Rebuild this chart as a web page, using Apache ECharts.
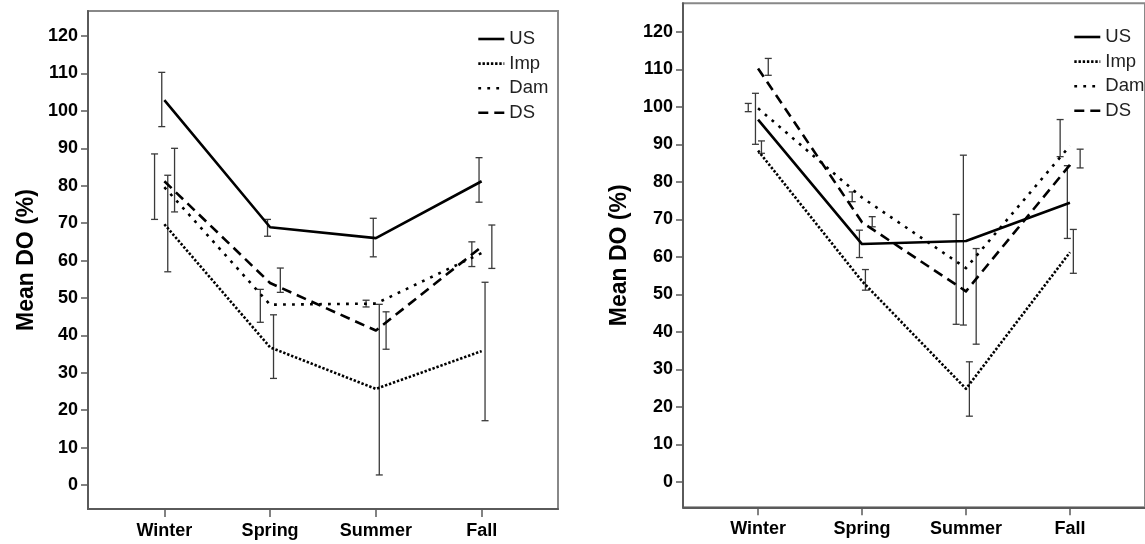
<!DOCTYPE html>
<html>
<head>
<meta charset="utf-8">
<script src="https://cdn.jsdelivr.net/npm/echarts@6/dist/echarts.min.js"></script>
<style>
html,body{margin:0;padding:0;background:#fff;}
#c{width:1145px;height:544px;}
</style>
</head>
<body>
<div id="c"></div>
<script>
// ---- data ----
const categories = ['Winter', 'Spring', 'Summer', 'Fall'];
const yTicks = [0, 10, 20, 30, 40, 50, 60, 70, 80, 90, 100, 110, 120];
const seriesNames = ['US', 'Imp', 'Dam', 'DS'];

// Left panel means
const usLeft  = [102.9, 68.9, 66.0, 81.2];
const impLeft = [69.7, 36.8, 25.7, 35.8];
const damLeft = [79.6, 48.2, 48.5, 62.0];
const dsLeft  = [81.2, 54.0, 41.3, 63.7];
// Left panel error bar low / high
const usLeftLo  = [95.8, 66.5, 61.0, 75.6];
const usLeftHi  = [110.3, 71.0, 71.3, 87.5];
const impLeftLo = [57.0, 28.5, 2.7, 17.2];
const impLeftHi = [82.8, 45.5, 48.3, 54.2];
const damLeftLo = [71.0, 43.5, 47.6, 58.4];
const damLeftHi = [88.5, 52.3, 49.4, 65.0];
const dsLeftLo  = [73.0, 51.5, 36.3, 57.9];
const dsLeftHi  = [90.0, 58.0, 46.3, 69.5];

// Right panel means
const usRight  = [96.6, 63.4, 64.2, 74.4];
const impRight = [88.3, 53.5, 24.8, 61.2];
const damRight = [99.6, 75.8, 57.0, 89.6];
const dsRight  = [110.2, 69.2, 50.8, 84.5];
// Right panel error bar low / high
const usRightLo  = [90.0, 59.8, 41.8, 64.9];
const usRightHi  = [103.6, 67.1, 87.1, 84.3];
const impRightLo = [87.6, 51.1, 17.5, 55.6];
const impRightHi = [90.9, 56.6, 32.0, 67.3];
const damRightLo = [98.7, 74.7, 42.0, 86.7];
const damRightHi = [100.9, 77.3, 71.3, 96.6];
const dsRightLo  = [108.4, 68.0, 36.7, 83.7];
const dsRightHi  = [112.9, 70.7, 62.2, 88.7];

// ---- styles ----
const FONT = "'Liberation Sans', Arial, sans-serif";
const lineStyles = {
  US:  { type: 'solid' },
  Imp: { type: [2.4, 1.8] },
  Dam: { type: [2.8, 6.2] },
  DS:  { type: [10, 6] }
};
const barOffsets = { US: -2.6, Imp: 3.4, Dam: -9.8, DS: 10.2 };

const panels = [
  { means: { US: usLeft, Imp: impLeft, Dam: damLeft, DS: dsLeft },
    lo: { US: usLeftLo, Imp: impLeftLo, Dam: damLeftLo, DS: dsLeftLo },
    hi: { US: usLeftHi, Imp: impLeftHi, Dam: damLeftHi, DS: dsLeftHi } },
  { means: { US: usRight, Imp: impRight, Dam: damRight, DS: dsRight },
    lo: { US: usRightLo, Imp: impRightLo, Dam: damRightLo, DS: dsRightLo },
    hi: { US: usRightHi, Imp: impRightHi, Dam: damRightHi, DS: dsRightHi } }
];

const grids = [
  { left: 88, top: 11, width: 470, height: 498 },
  { left: 683, top: 3.3, width: 471, height: 504 }
];
const yRanges = [
  { min: -6.4, max: 126.7, nameGap: 50 },
  { min: -6.8, max: 127.6, nameGap: 52 }
];

function xAxisFor(i) {
  return {
    type: 'value', gridIndex: i, min: -0.722, max: 3.722,
    axisLine: { show: true, onZero: false, lineStyle: { color: '#5a5a5a', width: 2 } },
    axisTick: { show: true, customValues: [0, 1, 2, 3], length: 8, inside: false,
      lineStyle: { color: '#5a5a5a', width: 1.5 } },
    axisLabel: { customValues: [0, 1, 2, 3], margin: 13,
      formatter: v => categories[Math.round(v)] || '',
      color: '#000', fontFamily: FONT, fontWeight: 'bold', fontSize: 18 },
    splitLine: { show: false }
  };
}
function yAxisFor(i) {
  return {
    type: 'value', gridIndex: i, min: yRanges[i].min, max: yRanges[i].max,
    name: 'Mean DO (%)', nameLocation: 'middle', nameRotate: 90, nameGap: yRanges[i].nameGap,
    nameTextStyle: { color: '#000', fontFamily: FONT, fontWeight: 'bold', fontSize: 23 },
    axisLine: { show: true, onZero: false, lineStyle: { color: '#5a5a5a', width: 2 } },
    axisTick: { show: true, customValues: yTicks, length: 7,
      lineStyle: { color: '#5a5a5a', width: 1.5 } },
    axisLabel: { customValues: yTicks, margin: 10,
      color: '#000', fontFamily: FONT, fontWeight: 'bold', fontSize: 18 },
    splitLine: { show: false }
  };
}

const series = [];
panels.forEach((p, pi) => {
  seriesNames.forEach(name => {
    const lo = p.lo[name], hi = p.hi[name];
    const dx = barOffsets[name];
    series.push({
      type: 'custom', xAxisIndex: pi, yAxisIndex: pi, z: 1, silent: true,
      data: categories.map((c, k) => [k, lo[k], hi[k]]),
      encode: { x: 0, y: [1, 2] },
      renderItem: function (params, api) {
        const x = api.value(0);
        const a = api.coord([x, api.value(2)]);
        const b = api.coord([x, api.value(1)]);
        const px = a[0] + dx;
        const cap = 3.5;
        const st = { stroke: '#3a3a3a', lineWidth: 1.3 };
        return { type: 'group', children: [
          { type: 'line', shape: { x1: px, y1: a[1], x2: px, y2: b[1] }, style: st },
          { type: 'line', shape: { x1: px - cap, y1: a[1], x2: px + cap, y2: a[1] }, style: st },
          { type: 'line', shape: { x1: px - cap, y1: b[1], x2: px + cap, y2: b[1] }, style: st }
        ]};
      }
    });
  });
  seriesNames.forEach(name => {
    series.push({
      name: name, type: 'line', xAxisIndex: pi, yAxisIndex: pi, z: 3,
      symbol: 'none', smooth: false, silent: true,
      data: p.means[name].map((v, k) => [k, v]),
      lineStyle: Object.assign({ color: '#000', width: 2.6, cap: 'butt', join: 'round' }, lineStyles[name]),
      itemStyle: { color: '#000' },
      animation: false
    });
  });
});

const legendBase = {
  orient: 'vertical', data: seriesNames, selectedMode: false,
  itemWidth: 26, itemHeight: 14, itemGap: 4.6, padding: 0,
  itemStyle: { opacity: 0 },
  lineStyle: { width: 2.6, color: '#000' },
  textStyle: { color: '#222', fontFamily: FONT, fontSize: 18.5, lineHeight: 20 }
};

const option = {
  animation: false,
  backgroundColor: '#fff',
  grid: grids.map(g => Object.assign({ show: true, borderColor: '#888', borderWidth: 2, backgroundColor: 'transparent', containLabel: false }, g)),
  xAxis: [xAxisFor(0), xAxisFor(1)],
  yAxis: [yAxisFor(0), yAxisFor(1)],
  legend: [
    Object.assign({ left: 477, top: 29 }, legendBase),
    Object.assign({ left: 1073, top: 27 }, legendBase)
  ],
  series: series
};

const chart = echarts.init(document.getElementById('c'), null, { renderer: 'canvas' });
chart.setOption(option);
</script>
</body>
</html>
